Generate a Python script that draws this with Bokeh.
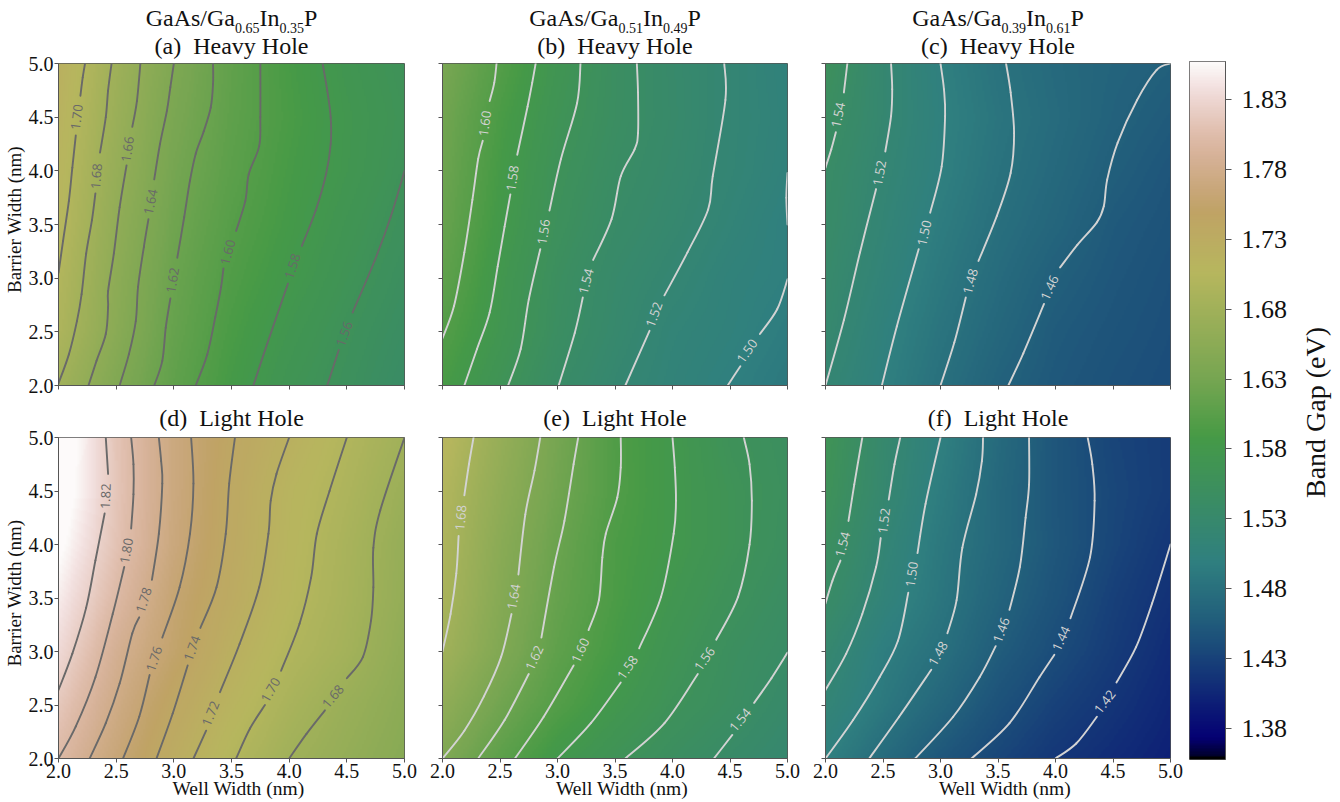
import numpy as np
from bokeh.core.properties import value
from bokeh.embed import file_html
from bokeh.layouts import column, row
from bokeh.models import ColumnDataSource, FixedTicker, Label, LinearColorMapper, NumeralTickFormatter, Range1d
from bokeh.plotting import figure
from bokeh.resources import INLINE

SERIF = "Liberation Serif"
VMIN, VMAX = 1.358, 1.857
WELL_TICKS = [2.0, 2.5, 3.0, 3.5, 4.0, 4.5, 5.0]
CBAR_TICKS = [1.38, 1.43, 1.48, 1.53, 1.58, 1.63, 1.68, 1.73, 1.78, 1.83]

# gist_earth colour map anchors
RED = [(0.0, 0.0), (0.2824, 0.1882), (0.4588, 0.2714), (0.5490, 0.4719), (0.6980, 0.7176), (0.7882, 0.7553), (1.0, 0.9922)]
GREEN = [(0.0, 0.0), (0.0275, 0.0), (0.1098, 0.1893), (0.1647, 0.3035), (0.2078, 0.3841), (0.2824, 0.5020), (0.5216, 0.6397),
         (0.6980, 0.7171), (0.7882, 0.6392), (0.8157, 0.6549), (0.8667, 0.6991), (0.8980, 0.7430), (0.9412, 0.8275),
         (0.9647, 0.8816), (0.9961, 0.9733), (1.0, 0.9843)]
BLUE = [(0.0, 0.0), (0.0039, 0.1684), (0.0078, 0.2212), (0.0275, 0.4329), (0.0314, 0.4549), (0.2824, 0.5004), (0.4667, 0.2748),
        (0.5451, 0.3205), (0.7843, 0.3961), (0.8941, 0.6651), (1.0, 0.9843)]

# Band gap (eV), rows: barrier 2.0 .. 5.0, columns: well 2.0 .. 5.0
A_FIELD = [[1.680, 1.642, 1.611, 1.587, 1.568, 1.555, 1.540],
           [1.695, 1.652, 1.616, 1.592, 1.574, 1.559, 1.545],
           [1.700, 1.656, 1.620, 1.597, 1.581, 1.565, 1.550],
           [1.707, 1.661, 1.625, 1.602, 1.586, 1.570, 1.555],
           [1.710, 1.667, 1.630, 1.607, 1.589, 1.575, 1.560],
           [1.715, 1.672, 1.635, 1.610, 1.592, 1.576, 1.563],
           [1.720, 1.677, 1.640, 1.612, 1.590, 1.573, 1.560]]
B_FIELD = [[1.590, 1.564, 1.540, 1.523, 1.510, 1.500, 1.490],
           [1.600, 1.573, 1.547, 1.529, 1.513, 1.505, 1.495],
           [1.610, 1.577, 1.550, 1.532, 1.520, 1.507, 1.500],
           [1.617, 1.583, 1.556, 1.538, 1.526, 1.513, 1.500],
           [1.622, 1.587, 1.560, 1.543, 1.530, 1.517, 1.505],
           [1.626, 1.592, 1.565, 1.547, 1.533, 1.518, 1.507],
           [1.633, 1.600, 1.570, 1.548, 1.532, 1.518, 1.505]]
C_FIELD = [[1.520, 1.500, 1.480, 1.463, 1.452, 1.445, 1.440],
           [1.527, 1.504, 1.485, 1.469, 1.455, 1.448, 1.442],
           [1.532, 1.510, 1.490, 1.474, 1.460, 1.451, 1.444],
           [1.537, 1.515, 1.495, 1.479, 1.467, 1.454, 1.447],
           [1.540, 1.519, 1.500, 1.483, 1.471, 1.459, 1.450],
           [1.547, 1.523, 1.502, 1.486, 1.474, 1.463, 1.455],
           [1.555, 1.523, 1.500, 1.483, 1.472, 1.465, 1.460]]
D_FIELD = [[1.800, 1.764, 1.730, 1.702, 1.680, 1.665, 1.650],
           [1.815, 1.775, 1.741, 1.713, 1.690, 1.672, 1.655],
           [1.832, 1.785, 1.755, 1.723, 1.700, 1.684, 1.660],
           [1.846, 1.800, 1.760, 1.732, 1.707, 1.688, 1.665],
           [1.860, 1.810, 1.768, 1.736, 1.710, 1.690, 1.667],
           [1.872, 1.813, 1.770, 1.738, 1.712, 1.695, 1.673],
           [1.875, 1.812, 1.770, 1.742, 1.720, 1.700, 1.680]]
E_FIELD = [[1.640, 1.608, 1.580, 1.563, 1.549, 1.537, 1.525],
           [1.660, 1.626, 1.600, 1.578, 1.560, 1.548, 1.533],
           [1.680, 1.642, 1.610, 1.588, 1.567, 1.551, 1.540],
           [1.690, 1.648, 1.616, 1.593, 1.574, 1.558, 1.545],
           [1.695, 1.653, 1.620, 1.594, 1.580, 1.564, 1.550],
           [1.700, 1.660, 1.626, 1.598, 1.580, 1.564, 1.552],
           [1.710, 1.667, 1.630, 1.597, 1.580, 1.560, 1.550]]
F_FIELD = [[1.500, 1.474, 1.451, 1.434, 1.420, 1.410, 1.400],
           [1.515, 1.490, 1.468, 1.446, 1.430, 1.418, 1.405],
           [1.525, 1.497, 1.480, 1.457, 1.440, 1.425, 1.410],
           [1.540, 1.510, 1.487, 1.465, 1.447, 1.429, 1.415],
           [1.550, 1.517, 1.490, 1.470, 1.451, 1.434, 1.420],
           [1.560, 1.525, 1.495, 1.470, 1.450, 1.435, 1.425],
           [1.565, 1.528, 1.500, 1.473, 1.450, 1.433, 1.425]]

# Contour traces (well, barrier); None marks the gap left for the inline label
A_LINES = [
    [(2.00,3.05),(2.04,3.35),(2.09,3.72),(2.12,4.03),(2.15,4.33),None,(2.19,4.70),(2.21,4.87),(2.23,5.0)],
    [(2.0,2.02),(2.09,2.29),(2.16,2.60),(2.20,2.85),(2.24,3.23),(2.29,3.54),(2.32,3.79),None,(2.36,4.17),(2.41,4.50),(2.43,4.75),(2.46,5.0)],
    [(2.26,2.0),(2.33,2.23),(2.41,2.48),(2.43,2.73),(2.43,2.88),(2.48,3.23),(2.53,3.66),(2.59,4.05),None,(2.64,4.41),(2.68,4.65),(2.71,5.0)],
    [(2.53,2.0),(2.61,2.29),(2.67,2.60),(2.69,2.92),(2.74,3.29),(2.78,3.55),None,(2.83,3.92),(2.88,4.25),(2.94,4.56),(2.97,4.78),(3.00,5.0)],
    [(2.83,2.0),(2.90,2.23),(2.93,2.54),(2.97,2.81),None,(3.03,3.19),(3.09,3.57),(3.14,3.91),(3.19,4.16),(3.26,4.37),(3.32,4.59),(3.34,4.81),(3.34,5.0)],
    [(3.19,2.0),(3.29,2.29),(3.36,2.64),(3.41,2.92),(3.43,3.09),None,(3.54,3.44),(3.62,3.72),(3.65,3.97),(3.74,4.23),(3.75,4.50),(3.75,5.0)],
    [(3.69,2.0),(3.81,2.39),(3.99,2.95),None,(4.11,3.30),(4.23,3.63),(4.32,3.97),(4.36,4.25),(4.36,4.50),(4.33,4.75),(4.29,5.0)],
    [(4.33,2.0),(4.43,2.33),None,(4.55,2.68),(4.74,3.16),(4.88,3.57),(5.0,4.0)],
]
A_LABELS = [("1.70",2.16,4.50,83),("1.68",2.33,3.95,85),("1.66",2.60,4.20,82),("1.64",2.80,3.71,78),
            ("1.62",2.99,2.98,80),("1.60",3.47,3.24,75),("1.58",4.03,3.11,72),("1.56",4.48,2.48,70)]

B_LINES = [
    [(2.0,2.44),(2.10,2.74),(2.19,3.24),(2.26,3.73),(2.31,4.11),(2.35,4.28),None,(2.41,4.65),(2.45,4.82),(2.47,5.0)],
    [(2.19,2.0),(2.30,2.34),(2.41,2.68),(2.48,3.11),(2.54,3.48),(2.59,3.78),None,(2.65,4.15),(2.74,4.60),(2.78,4.82),(2.81,5.0)],
    [(2.57,2.0),(2.68,2.34),(2.75,2.80),(2.85,3.27),None,(2.93,3.63),(3.03,4.11),(3.17,4.63),(3.20,5.0)],
    [(3.01,2.0),(3.15,2.49),(3.22,2.82),None,(3.31,3.17),(3.47,3.55),(3.55,3.95),(3.67,4.20),(3.70,4.35),(3.70,4.73),(3.69,5.0)],
    [(3.59,2.0),(3.80,2.51),None,(3.93,2.84),(4.13,3.24),(4.31,3.64),(4.35,3.95),(4.46,4.66),(4.45,5.0)],
    [(4.48,2.0),(4.59,2.18),None,(4.76,2.48),(4.91,2.71),(5.0,2.99)],
    [(5.0,3.50),(4.99,3.75),(5.0,3.98)],
]
B_LABELS = [("1.60",2.37,4.44,82),("1.58",2.61,3.93,82),("1.56",2.88,3.43,82),("1.54",3.25,2.97,75),
            ("1.52",3.84,2.66,70),("1.50",4.65,2.32,55)]

C_LINES = [
    [(2.0,4.03),(2.05,4.20),(2.09,4.36),None,(2.16,4.73),(2.19,5.0)],
    [(2.0,2.0),(2.16,2.61),(2.30,3.24),(2.44,3.83),None,(2.52,4.18),(2.57,4.51),(2.58,4.76),(2.57,5.0)],
    [(2.49,2.0),(2.62,2.55),(2.81,3.27),None,(2.91,3.61),(3.01,4.04),(3.04,4.51),(3.03,4.76),(3.0,5.0)],
    [(3.0,2.0),(3.12,2.40),(3.22,2.82),None,(3.33,3.16),(3.49,3.58),(3.61,3.98),(3.64,4.35),(3.61,4.73),(3.57,5.0)],
    [(3.59,2.0),(3.72,2.30),(3.90,2.76),None,(4.04,3.10),(4.19,3.31),(4.36,3.52),(4.42,3.67),(4.45,3.92),(4.54,4.26),(4.71,4.66),(4.88,4.94),(5.0,5.0)],
]
C_LABELS = [("1.54",2.11,4.52,78),("1.52",2.47,3.98,80),("1.50",2.86,3.42,77),("1.48",3.26,2.97,75),("1.46",3.95,2.91,65)]

D_LINES = [
    [(2.0,2.64),(2.12,2.98),(2.24,3.41),(2.32,3.85),(2.40,4.29),None,(2.43,4.66),(2.41,5.0)],
    [(2.0,2.0),(2.15,2.30),(2.32,2.76),(2.47,3.35),(2.57,3.79),None,(2.63,4.15),(2.65,4.47),(2.65,4.75),(2.63,5.0)],
    [(2.27,2.0),(2.41,2.33),(2.53,2.70),(2.64,3.17),(2.70,3.32),None,(2.81,3.67),(2.87,4.10),(2.90,4.57),(2.89,4.78),(2.87,5.0)],
    [(2.56,2.0),(2.70,2.39),(2.79,2.78),None,(2.90,3.13),(3.05,3.60),(3.14,4.10),(3.17,4.57),(3.15,5.0)],
    [(2.85,2.0),(2.99,2.42),(3.12,2.87),None,(3.23,3.22),(3.37,3.60),(3.45,4.10),(3.48,4.57),(3.53,5.0)],
    [(3.17,2.0),(3.28,2.26),None,(3.40,2.62),(3.57,3.07),(3.74,3.60),(3.82,4.10),(3.84,4.41),(3.89,4.66),(4.0,5.0)],
    [(3.54,2.0),(3.66,2.28),(3.79,2.50),None,(3.93,2.82),(4.09,3.26),(4.19,3.69),(4.24,4.10),(4.35,4.50),(4.50,5.0)],
    [(4.0,2.0),(4.15,2.23),(4.31,2.45),None,(4.50,2.75),(4.64,2.95),(4.71,3.29),(4.73,3.60),(4.73,3.97),(4.79,4.32),(5.0,5.0)],
]
D_LABELS = [("1.82",2.41,4.45,88),("1.80",2.59,3.94,80),("1.78",2.74,3.48,72),("1.76",2.83,2.93,72),
            ("1.74",3.16,3.03,70),("1.72",3.32,2.42,68),("1.70",3.84,2.64,60),("1.68",4.38,2.58,50)]

E_LINES = [
    [(2.0,3.0),(2.07,3.35),(2.12,3.73),(2.14,4.08),None,(2.19,4.46),(2.23,4.75),(2.27,5.0)],
    [(2.0,2.0),(2.19,2.26),(2.36,2.58),(2.51,2.95),(2.60,3.35),None,(2.66,3.72),(2.72,4.28),(2.80,4.69),(2.85,5.0)],
    [(2.31,2.0),(2.54,2.36),(2.75,2.79),None,(2.86,3.13),(2.97,3.79),(3.06,4.22),(3.14,4.75),(3.18,5.0)],
    [(2.63,2.0),(2.88,2.39),(3.14,2.87),None,(3.27,3.20),(3.36,3.48),(3.39,3.88),(3.42,4.10),(3.52,4.44),(3.55,4.72),(3.55,5.0)],
    [(3.0,2.0),(3.29,2.33),(3.55,2.71),None,(3.71,3.03),(3.90,3.51),(4.01,4.10),(4.03,4.41),(4.02,4.72),(4.0,5.0)],
    [(3.59,2.0),(3.93,2.33),(4.22,2.79),None,(4.38,3.11),(4.57,3.51),(4.67,4.0),(4.69,4.41),(4.67,4.75),(4.62,5.0)],
    [(4.36,2.0),(4.52,2.22),None,(4.71,2.52),(4.86,2.75),(5.0,2.99)],
]
E_LABELS = [("1.68",2.16,4.25,85),("1.64",2.62,3.51,80),("1.62",2.80,2.94,65),("1.60",3.20,3.01,65),
            ("1.58",3.61,2.85,55),("1.56",4.28,2.93,55),("1.54",4.59,2.36,50)]

F_LINES = [
    [(2.0,3.45),(2.06,3.66),(2.13,3.85),None,(2.20,4.22),(2.25,4.56),(2.32,5.0)],
    [(2.0,2.64),(2.18,2.98),(2.32,3.35),(2.44,3.79),(2.48,4.06),None,(2.55,4.42),(2.60,4.75),(2.65,5.0)],
    [(2.0,2.0),(2.24,2.36),(2.47,2.76),(2.63,3.10),(2.72,3.55),None,(2.80,3.92),(2.87,4.38),(3.0,5.0)],
    [(2.38,2.0),(2.64,2.39),(2.92,2.83),None,(3.06,3.17),(3.14,3.48),(3.19,3.97),(3.31,4.47),(3.36,4.78),(3.37,5.0)],
    [(2.78,2.0),(3.11,2.39),(3.34,2.76),(3.48,3.05),None,(3.60,3.39),(3.69,3.79),(3.74,4.25),(3.77,4.56),(3.77,5.0)],
    [(3.27,2.0),(3.60,2.33),(3.86,2.76),(3.99,2.97),None,(4.13,3.31),(4.30,3.88),(4.34,4.41),(4.32,4.75),(4.28,5.0)],
    [(4.0,2.0),(4.18,2.14),(4.36,2.39),None,(4.53,2.71),(4.70,3.04),(4.84,3.45),(5.0,4.0)],
]
F_LABELS = [("1.54",2.15,4.0,75),("1.52",2.51,4.22,83),("1.50",2.75,3.72,82),("1.48",2.98,2.98,60),
            ("1.46",3.53,3.20,70),("1.44",4.05,3.12,65),("1.42",4.43,2.53,52)]

TITLES = ["(a)\u00a0 Heavy Hole", "(b)\u00a0 Heavy Hole", "(c)\u00a0 Heavy Hole",
          "(d)\u00a0 Light Hole", "(e)\u00a0 Light Hole", "(f)\u00a0 Light Hole"]
ALLOYS = [("0.65", "0.35"), ("0.51", "0.49"), ("0.39", "0.61")]

ts = np.linspace(0, 1, 256)
def chan(a):
    return np.interp(ts, [p[0] for p in a], [p[1] for p in a])
PALETTE = ["#%02x%02x%02x" % (int(r * 255), int(g * 255), int(b * 255)) for r, g, b in zip(chan(RED), chan(GREEN), chan(BLUE))]
mapper = LinearColorMapper(palette=PALETTE, low=VMIN, high=VMAX)

SPINE = "#555555"
INK = "#111111"
LIGHT = "#d3d3d3"
DARK = "#696969"


def resample(field, n=180):
    """Smooth the coarse table for display: the image is a continuous field."""
    f = np.array(field, dtype=float)
    fine = np.linspace(2, 5, n)
    by_row = np.array([np.interp(fine, WELL_TICKS, r) for r in f])
    return np.array([np.interp(fine, WELL_TICKS, c) for c in by_row.T]).T


def curve(p, trace, color):
    """Draw a traced contour as a smooth curve through its read points."""
    seg = []
    for pt in trace + [None]:
        if pt is not None:
            seg.append(pt)
            continue
        a = np.array(seg)
        before = np.vstack([a[0], a[:-1]])
        after = np.vstack([a[1:], a[-1]])
        tan = (after - before) / 6
        p.bezier(a[:-1, 0], a[:-1, 1], a[1:, 0], a[1:, 1], a[:-1, 0] + tan[:-1, 0], a[:-1, 1] + tan[:-1, 1],
                 a[1:, 0] - tan[1:, 0], a[1:, 1] - tan[1:, 1], line_color=color, line_width=1.9, line_cap="round")
        seg = []


def side_label(p, side, text, x, y, size, dx=0, dy=0, angle=0):
    p.add_layout(Label(x=x, y=y, text=text, x_offset=dx, y_offset=dy, text_font=SERIF, text_font_size=f"{size}px",
                       text_color=INK, text_align="center", text_baseline="alphabetic", angle=angle, angle_units="deg"), side)


def panel(field, lines, labels, line_color, title, left, right, top, bottom, frame_w, frame_h, show_x, show_y, title_dy, lift=0):
    p = figure(width=left + frame_w + right, height=top + frame_h + bottom, x_range=Range1d(2, 5), y_range=Range1d(2, 5),
               output_backend="svg", toolbar_location=None, tools="", min_border_left=left, min_border_right=right,
               min_border_top=top, min_border_bottom=bottom, background_fill_color=None, border_fill_color=None,
               margin=(-lift, 0, 0, 0))
    p.grid.visible = False
    p.outline_line_color = SPINE
    p.image(image=[resample(field)], x=2, y=2, dw=3, dh=3, color_mapper=mapper)
    for trace in lines:
        curve(p, trace, line_color)
    src = ColumnDataSource(dict(t=[l[0] for l in labels], x=[l[1] for l in labels], y=[l[2] for l in labels],
                                a=[l[3] for l in labels]))
    p.text("x", "y", text="t", angle="a", angle_units="deg", source=src, text_color=line_color, text_font=value("Open Sans"),
           text_font_size="13px", text_align="center", text_baseline="middle")
    for ax, show in ((p.xaxis[0], show_x), (p.yaxis[0], show_y)):
        ax.ticker = FixedTicker(ticks=WELL_TICKS)
        ax.formatter = NumeralTickFormatter(format="0.0")
        ax.minor_tick_line_color = None
        ax.major_tick_in = 0
        ax.major_tick_out = 4
        ax.major_tick_line_color = SPINE
        ax.axis_line_color = SPINE
        ax.major_label_standoff = 1
        ax.major_label_text_font = SERIF
        ax.major_label_text_font_size = "20px"
        ax.major_label_text_color = INK
        if not show:
            ax.major_label_overrides = {t: "" for t in WELL_TICKS}
    side_label(p, "above", title, 3.5, 5.0, 24, dy=title_dy)
    if show_x:
        side_label(p, "below", "Well Width (nm)", 3.5, 2.0, 19.5, dx=7, dy=-30)
    if show_y:
        side_label(p, "left", "Barrier Width (nm)", 2.0, 3.5, 19, dx=-44, dy=5, angle=90)
    return p


# Header strip for the alloy line with its subscripts
HEAD_H = 36
LIFT = 5
TOP1 = 63 - HEAD_H + LIFT
pa = panel(A_FIELD, A_LINES, A_LABELS, DARK, TITLES[0], 58, 16, TOP1, 10, 346, 322, False, True, 18, LIFT)
pb = panel(B_FIELD, B_LINES, B_LABELS, LIGHT, TITLES[1], 22, 19, TOP1, 10, 345, 322, False, False, 18, LIFT)
pc = panel(C_FIELD, C_LINES, C_LABELS, LIGHT, TITLES[2], 19, 19, TOP1, 10, 345, 322, False, False, 18, LIFT)
pd = panel(D_FIELD, D_LINES, D_LABELS, DARK, TITLES[3], 58, 16, 42, 44, 346, 321, True, True, 20)
pe = panel(E_FIELD, E_LINES, E_LABELS, LIGHT, TITLES[4], 22, 19, 42, 44, 345, 321, True, False, 20)
pf = panel(F_FIELD, F_LINES, F_LABELS, LIGHT, TITLES[5], 19, 19, 42, 44, 345, 321, True, False, 20)

head = figure(width=1189, height=HEAD_H, x_range=Range1d(0, 1189), y_range=Range1d(0, HEAD_H), output_backend="svg",
              toolbar_location=None, tools="", x_axis_location=None, y_axis_location=None, min_border=0,
              outline_line_color=None, background_fill_color=None, border_fill_color=None, margin=(0, 0, 0, 0))
head.grid.visible = False
for cx, alloy in zip((231, 614.5, 997.5), ALLOYS):
    parts = ["GaAs/Ga", alloy[0], "In", alloy[1], "P"]
    widths = [89.3, 24.5, 20.0, 24.5, 13.3]
    sizes = ["24px", "14px", "24px", "14px", "24px"]
    baselines = [17, 27, 17, 27, 17]
    off = cx - sum(widths) / 2
    for t, w, s, b in zip(parts, widths, sizes, baselines):
        head.text([off], [HEAD_H - b], text=[t], text_font=value(SERIF), text_font_size=s, text_color=INK,
                  text_align="left", text_baseline="alphabetic")
        off += w

cb = figure(width=151, height=802, x_range=Range1d(0, 1), y_range=Range1d(VMIN, VMAX), output_backend="svg",
            toolbar_location=None, tools="", x_axis_location=None, y_axis_location="right", min_border_left=0,
            min_border_right=115, min_border_top=61, min_border_bottom=43, background_fill_color=None, border_fill_color=None)
cb.grid.visible = False
cb.outline_line_color = SPINE
cb.image(image=[np.linspace(VMIN, VMAX, 256).reshape(-1, 1)], x=0, y=VMIN, dw=1, dh=VMAX - VMIN, color_mapper=mapper)
ay = cb.yaxis[0]
ay.ticker = FixedTicker(ticks=CBAR_TICKS)
ay.formatter = NumeralTickFormatter(format="0.00")
ay.minor_tick_line_color = None
ay.major_tick_in = 0
ay.major_tick_out = 6
ay.major_tick_line_color = SPINE
ay.axis_line_color = SPINE
ay.major_label_standoff = 10
ay.major_label_text_font = SERIF
ay.major_label_text_font_size = "26px"
ay.major_label_text_color = INK
side_label(cb, "right", "Band Gap (eV)", 1.0, (VMIN + VMAX) / 2, 28, dx=90, dy=-2, angle=90)

page = row(column(head, row(pa, pb, pc), row(pd, pe, pf)), cb)
open("out.html", "w").write(file_html(page, INLINE))
